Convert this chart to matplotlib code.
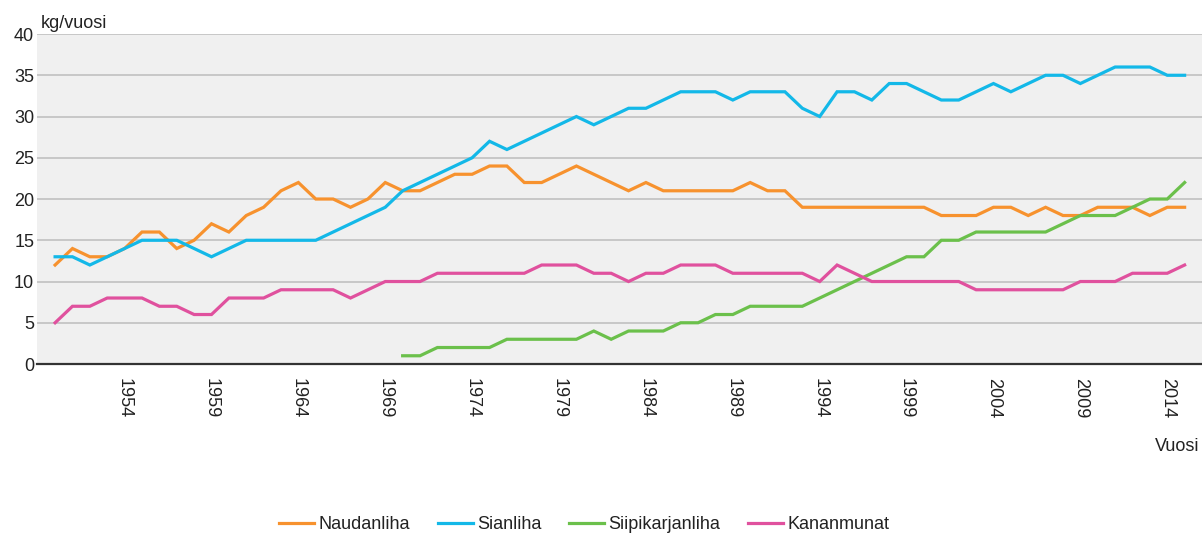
import numpy as np
import matplotlib.pyplot as plt

plt.rcParams['font.family'] = ['Liberation Sans', 'DejaVu Sans']

years = np.arange(1950, 2016)

naudanliha = [12, 14, 13, 13, 14, 16, 16, 14, 15, 17,
              16, 18, 19, 21, 22, 20, 20, 19, 20, 22,
              21, 21, 22, 23, 23, 24, 24, 22, 22, 23,
              24, 23, 22, 21, 22, 21, 21, 21, 21, 21,
              22, 21, 21, 19, 19, 19, 19, 19, 19, 19,
              19, 18, 18, 18, 19, 19, 18, 19, 18, 18,
              19, 19, 19, 18, 19, 19]
sianliha = [13, 13, 12, 13, 14, 15, 15, 15, 14, 13,
            14, 15, 15, 15, 15, 15, 16, 17, 18, 19,
            21, 22, 23, 24, 25, 27, 26, 27, 28, 29,
            30, 29, 30, 31, 31, 32, 33, 33, 33, 32,
            33, 33, 33, 31, 30, 33, 33, 32, 34, 34,
            33, 32, 32, 33, 34, 33, 34, 35, 35, 34,
            35, 36, 36, 36, 35, 35]
# siipikarjanliha starts in 1970
siipi_years = np.arange(1970, 2016)
siipikarjanliha = [1, 1, 2, 2, 2, 2, 3, 3, 3, 3,
                   3, 4, 3, 4, 4, 4, 5, 5, 6, 6,
                   7, 7, 7, 7, 8, 9, 10, 11, 12, 13,
                   13, 15, 15, 16, 16, 16, 16, 16, 17, 18,
                   18, 18, 19, 20, 20, 22]
kananmunat = [5, 7, 7, 8, 8, 8, 7, 7, 6, 6,
              8, 8, 8, 9, 9, 9, 9, 8, 9, 10,
              10, 10, 11, 11, 11, 11, 11, 11, 12, 12,
              12, 11, 11, 10, 11, 11, 12, 12, 12, 11,
              11, 11, 11, 11, 10, 12, 11, 10, 10, 10,
              10, 10, 10, 9, 9, 9, 9, 9, 9, 10,
              10, 10, 11, 11, 11, 12]

tick_years = np.arange(1954, 2015, 5)

fs = 13
txt = '#222222'

fig = plt.figure(figsize=(12.02, 5.35), dpi=100)
ax = fig.add_axes([0.0308, 0.3196, 0.9692, 0.6168])
ax.set_facecolor('#f0f0f0')

lw = 2.3
ax.plot(years, naudanliha, color='#f7922e', lw=lw, label='Naudanliha', solid_joinstyle='miter')
ax.plot(years, sianliha, color='#13b8e8', lw=lw, label='Sianliha', solid_joinstyle='miter')
ax.plot(siipi_years, siipikarjanliha, color='#6bc04b', lw=lw, label='Siipikarjanliha', solid_joinstyle='miter')
ax.plot(years, kananmunat, color='#e0519e', lw=lw, label='Kananmunat', solid_joinstyle='miter')

ax.set_xlim(1948.96, 2016.0)
ax.set_ylim(0, 40)
ax.set_yticks(np.arange(0, 41, 5))
ax.set_xticks(tick_years)
ax.set_xticklabels([str(y) for y in tick_years], rotation=270, va='top', ha='center')
ax.grid(axis='y', color='#c4c4c4', lw=1.3)
ax.set_axisbelow(True)
ax.tick_params(axis='both', length=0, labelsize=fs, colors=txt)
ax.tick_params(axis='x', pad=10)
ax.tick_params(axis='y', pad=2)

for s in ['top', 'right', 'left']:
    ax.spines[s].set_visible(False)
ax.spines['bottom'].set_color('#333333')
ax.spines['bottom'].set_linewidth(1.6)
ax.spines['bottom'].set_zorder(5)

fig.text(0.034, 1 - 28 / 535, 'kg/vuosi', fontsize=fs, color=txt, ha='left', va='baseline')
fig.text(0.998, 0.165, 'Vuosi', fontsize=fs, color=txt, ha='right', va='center')

fig.legend(loc='center', bbox_to_anchor=(0.486, 0.019), ncol=4, frameon=False,
           fontsize=fs, handlelength=1.95, handletextpad=0.22, columnspacing=1.55,
           labelcolor=txt)

fig.savefig('out.png', dpi=100)
